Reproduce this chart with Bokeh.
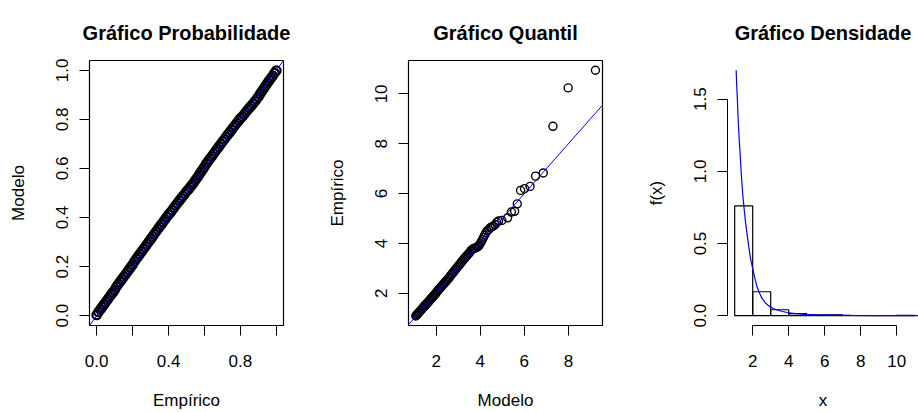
from bokeh.plotting import figure
from bokeh.layouts import row
from bokeh.models import FixedTicker, Slope, Range1d, Title
from bokeh.embed import file_html
from bokeh.resources import INLINE

# ---------------- data ----------------
# P-P plot: empirical vs model probabilities
pp_emp = [0.00, 0.01, 0.02, 0.03, 0.04, 0.05, 0.06, 0.07, 0.08, 0.09, 0.10,
          0.11, 0.12, 0.13, 0.14, 0.15, 0.16, 0.17, 0.18, 0.19, 0.20,
          0.21, 0.22, 0.23, 0.24, 0.25, 0.26, 0.27, 0.28, 0.29, 0.30,
          0.31, 0.32, 0.33, 0.34, 0.35, 0.36, 0.37, 0.38, 0.39, 0.40,
          0.41, 0.42, 0.43, 0.44, 0.45, 0.46, 0.47, 0.48, 0.49, 0.50,
          0.51, 0.52, 0.53, 0.54, 0.55, 0.56, 0.57, 0.58, 0.59, 0.60,
          0.61, 0.62, 0.63, 0.64, 0.65, 0.66, 0.67, 0.68, 0.69, 0.70,
          0.71, 0.72, 0.73, 0.74, 0.75, 0.76, 0.77, 0.78, 0.79, 0.80,
          0.81, 0.82, 0.83, 0.84, 0.85, 0.86, 0.87, 0.88, 0.89, 0.90,
          0.91, 0.92, 0.93, 0.94, 0.95, 0.96, 0.97, 0.98, 0.99, 1.00]
pp_mod = [0.003, 0.015, 0.025, 0.035, 0.045, 0.055, 0.065, 0.075, 0.085, 0.095, 0.105,
          0.118, 0.128, 0.138, 0.148, 0.158, 0.168, 0.178, 0.188, 0.198, 0.208,
          0.221, 0.231, 0.241, 0.251, 0.261, 0.271, 0.281, 0.291, 0.301, 0.311,
          0.322, 0.332, 0.342, 0.352, 0.362, 0.372, 0.382, 0.392, 0.402, 0.412,
          0.420, 0.430, 0.440, 0.450, 0.459, 0.469, 0.478, 0.487, 0.496, 0.506,
          0.514, 0.523, 0.532, 0.542, 0.553, 0.563, 0.574, 0.585, 0.596, 0.607,
          0.619, 0.629, 0.639, 0.649, 0.659, 0.669, 0.679, 0.689, 0.699, 0.709,
          0.718, 0.728, 0.738, 0.747, 0.757, 0.767, 0.776, 0.785, 0.795, 0.804,
          0.811, 0.820, 0.829, 0.838, 0.847, 0.855, 0.864, 0.873, 0.882, 0.892,
          0.904, 0.915, 0.926, 0.937, 0.947, 0.958, 0.968, 0.978, 0.989, 0.999]

# Q-Q plot: model quantiles vs empirical quantiles
qq_mod = [1.07, 1.10, 1.13, 1.16, 1.19, 1.22, 1.25, 1.28, 1.31, 1.34, 1.37, 1.40,
          1.43, 1.46, 1.49, 1.52, 1.55, 1.58, 1.61, 1.64, 1.67, 1.70, 1.73, 1.76,
          1.79, 1.82, 1.85, 1.88, 1.91, 1.94, 1.97, 2.00,
          2.04, 2.08, 2.12, 2.16, 2.20, 2.24, 2.28, 2.32, 2.36, 2.40, 2.44, 2.48,
          2.52, 2.56, 2.60,
          2.65, 2.70, 2.75, 2.80, 2.85, 2.90, 2.95, 3.00, 3.05, 3.10, 3.15, 3.20,
          3.25, 3.30, 3.35, 3.40, 3.45, 3.50,
          3.55, 3.60, 3.65, 3.70, 3.75, 3.80, 3.85, 3.90, 3.95, 4.00, 4.05, 4.10,
          4.15, 4.20, 4.25, 4.30,
          4.38, 4.45, 4.52, 4.60, 4.68, 4.75, 4.83, 4.98, 5.24, 5.41, 5.56, 5.68,
          5.83, 6.01, 6.26, 6.51, 6.86, 7.30, 7.99, 9.23]
qq_emp = [1.09, 1.12, 1.15, 1.18, 1.21, 1.24, 1.27, 1.30, 1.33, 1.36, 1.39, 1.42,
          1.45, 1.48, 1.51, 1.54, 1.57, 1.60, 1.63, 1.66, 1.69, 1.72, 1.75, 1.78,
          1.81, 1.84, 1.87, 1.90, 1.93, 1.96, 1.99, 2.02,
          2.08, 2.12, 2.16, 2.20, 2.24, 2.28, 2.32, 2.36, 2.40, 2.44, 2.48, 2.52,
          2.56, 2.60, 2.64,
          2.71, 2.76, 2.82, 2.87, 2.93, 2.98, 3.04, 3.09, 3.15, 3.20, 3.26, 3.31,
          3.37, 3.42, 3.47, 3.52, 3.57, 3.62,
          3.69, 3.74, 3.77, 3.80, 3.81, 3.83, 3.85, 3.88, 3.93, 4.00, 4.08, 4.16,
          4.25, 4.34, 4.42, 4.50,
          4.55, 4.63, 4.66, 4.70, 4.76, 4.85, 4.90, 4.92, 5.03, 5.26, 5.29, 5.59,
          6.13, 6.20, 6.29, 6.70, 6.83, 8.70, 10.24, 10.95]

# Density: histogram (density scale) and fitted density curve
hist_left = [1, 2, 3, 4, 5, 6, 7, 8, 9, 10]
hist_right = [2, 3, 4, 5, 6, 7, 8, 9, 10, 11]
hist_dens = [0.761, 0.166, 0.041, 0.014, 0.005, 0.005, 0.0, 0.001, 0.0, 0.002]
curve_x = [1.08, 1.11, 1.15, 1.18, 1.22, 1.27, 1.32, 1.36, 1.41, 1.46, 1.52, 1.60,
           1.69, 1.78, 1.87, 2.00, 2.12, 2.24, 2.38, 2.52, 2.70, 2.89, 3.15,
           3.44, 3.90, 4.37, 5.00, 5.50, 6.50, 7.50, 9.00, 11.2]
curve_y = [1.70, 1.60, 1.495, 1.39, 1.29, 1.18, 1.086, 0.99, 0.904, 0.82, 0.745, 0.65,
           0.563, 0.48, 0.404, 0.325, 0.26, 0.20, 0.155, 0.12, 0.09, 0.068, 0.05,
           0.036, 0.022, 0.014, 0.009, 0.006, 0.004, 0.002, 0.001, 0.0005]

titles = ["Gráfico Probabilidade", "Gráfico Quantil", "Gráfico Densidade"]

FONT = "Liberation Sans"


def style(p, xlabel, ylabel, title):
    p.add_layout(Title(text=title, text_font=FONT, text_font_size="20px",
                       text_font_style="bold", text_color="black",
                       align="center", standoff=34), "above")
    p.xgrid.visible = False
    p.ygrid.visible = False
    for ax in (p.xaxis[0], p.yaxis[0]):
        ax.major_tick_in = 0
        ax.major_tick_out = 10
        ax.minor_tick_in = 0
        ax.minor_tick_out = 0
        ax.major_tick_line_color = "black"
        ax.major_label_text_font = FONT
        ax.major_label_text_font_size = "17px"
        ax.major_label_text_color = "black"
        ax.axis_label_text_font = FONT
        ax.axis_label_text_font_size = "17px"
        ax.axis_label_text_font_style = "normal"
        ax.axis_label_text_color = "black"
    p.xaxis[0].axis_label = xlabel
    p.yaxis[0].axis_label = ylabel
    p.xaxis[0].major_label_standoff = 19
    p.xaxis[0].axis_label_standoff = 21
    p.yaxis[0].major_label_orientation = "vertical"
    p.yaxis[0].major_label_standoff = 11
    p.yaxis[0].axis_label_standoff = 26
    p.background_fill_color = "white"
    p.border_fill_color = "white"


common = dict(width=306, height=412, min_border_top=60, min_border_bottom=83,
              toolbar_location=None, output_backend="svg", title_location=None)

# ---- Panel 1: P-P ----
p1 = figure(x_range=Range1d(-0.04, 1.04), y_range=Range1d(-0.04, 1.04),
            min_border_left=89, min_border_right=23, **common)
style(p1, "Empírico", "Modelo", titles[0])
p1.outline_line_color = "black"
p1.outline_line_width = 1.2
p1.xaxis[0].axis_line_color = None
p1.yaxis[0].axis_line_color = None
p1.xaxis[0].ticker = FixedTicker(ticks=[0, 0.2, 0.4, 0.6, 0.8, 1.0])
p1.xaxis[0].major_label_overrides = {0: "0.0", 0.2: "", 0.4: "0.4", 0.6: "", 0.8: "0.8", 1: ""}
p1.yaxis[0].ticker = FixedTicker(ticks=[0, 0.2, 0.4, 0.6, 0.8, 1.0])
p1.yaxis[0].major_label_overrides = {0: "0.0", 0.2: "0.2", 0.4: "0.4", 0.6: "0.6", 0.8: "0.8", 1: "1.0"}
p1.scatter(pp_emp, pp_mod, marker="circle", size=8.5, fill_color=None,
           line_color="black", line_width=2.2)
p1.add_layout(Slope(gradient=1, y_intercept=0, line_color="blue", line_width=1))

# ---- Panel 2: Q-Q ----
p2 = figure(x_range=Range1d(0.74, 9.55), y_range=Range1d(0.71, 11.34),
            min_border_left=102, min_border_right=10, **common)
style(p2, "Modelo", "Empírico", titles[1])
p2.outline_line_color = "black"
p2.outline_line_width = 1.2
p2.xaxis[0].axis_line_color = None
p2.yaxis[0].axis_line_color = None
p2.xaxis[0].ticker = FixedTicker(ticks=[2, 4, 6, 8])
p2.yaxis[0].ticker = FixedTicker(ticks=[2, 4, 6, 8, 10])
p2.scatter(qq_mod, qq_emp, marker="circle", size=8, fill_color=None,
           line_color="black", line_width=1.4)
p2.add_layout(Slope(gradient=1, y_intercept=0, line_color="blue", line_width=1))

# ---- Panel 3: density ----
p3 = figure(x_range=Range1d(0.6, 11.21), y_range=Range1d(-0.068, 1.768),
            min_border_left=115, min_border_right=0, **common)
style(p3, "x", "f(x)", titles[2])
p3.outline_line_color = None
p3.xaxis[0].ticker = FixedTicker(ticks=[2, 4, 6, 8, 10])
p3.xaxis[0].bounds = (2, 10)
p3.xaxis[0].axis_line_color = "black"
p3.yaxis[0].ticker = FixedTicker(ticks=[0, 0.5, 1.0, 1.5])
p3.yaxis[0].major_label_overrides = {0: "0.0", 0.5: "0.5", 1: "1.0", 1.5: "1.5"}
p3.yaxis[0].bounds = (0, 1.5)
p3.yaxis[0].axis_line_color = "black"
p3.quad(left=hist_left, right=hist_right, bottom=[0] * len(hist_dens), top=hist_dens,
        fill_color=None, line_color="black", line_width=1.2)
p3.line(curve_x, curve_y, line_color="blue", line_width=1.2)

layout = row(p1, p2, p3, spacing=0)
open("out.html", "w").write(file_html(layout, INLINE))
